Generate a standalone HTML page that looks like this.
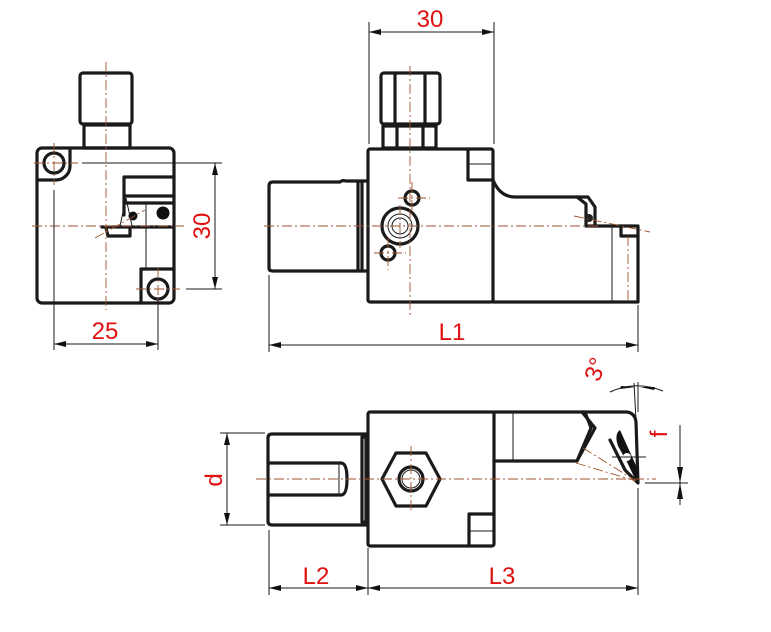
<!DOCTYPE html>
<html><head><meta charset="utf-8"><style>
html,body{margin:0;padding:0;background:#fff}
svg{display:block}
.k{stroke:#1a1a1a;stroke-width:3.2;fill:none;stroke-linejoin:round;stroke-linecap:round}
.t{stroke:#1a1a1a;stroke-width:1;fill:none}
.c{stroke:#a0522d;stroke-width:0.9;fill:none;stroke-dasharray:10 3 2 3}
.r{fill:#e01010;font-family:"Liberation Sans",sans-serif;font-size:24px}
</style></head><body>
<svg width="771" height="632" viewBox="0 0 771 632" xmlns="http://www.w3.org/2000/svg">
<defs>
<marker id="a" viewBox="0 0 12 6" refX="12" refY="3" markerWidth="12" markerHeight="6" orient="auto-start-reverse" markerUnits="userSpaceOnUse"><path d="M0,0 L12,3 L0,6 Z" fill="#111"/></marker>
</defs>

<!-- ===== LEFT VIEW ===== -->
<rect class="k" x="80" y="73" width="52" height="51" rx="3"/>
<rect class="k" x="84" y="125" width="46" height="23"/>
<rect class="k" x="37" y="148" width="137" height="155" rx="5"/>
<path class="k" d="M37,180 H56 A14,14 0 0 0 70,166 V148"/>
<circle class="k" cx="54" cy="163" r="10"/>
<path class="k" d="M141,303 V269 H174"/>
<circle class="k" cx="158" cy="289" r="10"/>
<path class="k" d="M124,215 V177 H174"/>
<line class="k" x1="125" y1="196" x2="174" y2="196"/>
<line class="k" x1="125" y1="203" x2="174" y2="203"/>
<line class="k" x1="102" y1="227" x2="174" y2="227"/>
<path class="k" d="M106,228 L108,236 H130 V228"/>
<circle cx="163" cy="213" r="6.5" fill="#111"/>
<circle cx="133" cy="216" r="4.5" fill="#111"/>
<path class="t" d="M120,226 L126,198 L132,226 M146,203 V268"/>
<line class="c" x1="106" y1="62" x2="106" y2="310"/>
<line class="c" x1="32" y1="226" x2="184" y2="226"/>
<line class="c" x1="34" y1="163" x2="78" y2="163"/>
<line class="c" x1="54" y1="143" x2="54" y2="185"/>
<line class="c" x1="136" y1="289" x2="180" y2="289"/>
<line class="c" x1="158" y1="267" x2="158" y2="312"/>
<line class="c" x1="95" y1="238" x2="145" y2="210"/>
<!-- dims left -->
<line class="t" x1="82" y1="163" x2="222" y2="163"/>
<line class="t" x1="186" y1="289" x2="222" y2="289"/>
<line class="t" x1="215" y1="163" x2="215" y2="289" marker-start="url(#a)" marker-end="url(#a)"/>
<text class="r" transform="translate(210,226) rotate(-90)" text-anchor="middle">30</text>
<line class="t" x1="54" y1="190" x2="54" y2="350"/>
<line class="t" x1="158" y1="300" x2="158" y2="350"/>
<line class="t" x1="54" y1="344" x2="158" y2="344" marker-start="url(#a)" marker-end="url(#a)"/>
<text class="r" x="105" y="339" text-anchor="middle">25</text>

<!-- ===== MIDDLE VIEW ===== -->
<rect class="k" x="381" y="73" width="59" height="51" rx="3"/>
<line class="k" x1="395" y1="74" x2="395" y2="123"/>
<line class="k" x1="425" y1="74" x2="425" y2="123"/>
<rect class="k" x="383" y="126" width="53" height="22"/>
<line class="k" x1="397" y1="127" x2="397" y2="147"/>
<line class="k" x1="423" y1="127" x2="423" y2="147"/>
<rect class="k" x="368" y="149" width="125" height="153" rx="2"/>
<path class="k" d="M468,149 V180 H493"/>
<line class="t" x1="469" y1="164" x2="493" y2="164"/>
<path class="k" d="M366,181 H346 Q342,180 340,182 H273 Q269,182 269,186 V268 Q269,271 273,271 H366"/>
<line class="k" x1="358" y1="181" x2="358" y2="271"/>
<line class="k" x1="362" y1="181" x2="362" y2="271"/>
<path class="k" d="M493,180 Q500,197 515,197 H577 L586,204 V226 H638 V302 H493"/>
<path class="k" d="M577,197 H588 L595,207 V226"/>
<path class="k" d="M621,226 V236 H637"/>
<circle cx="589" cy="218" r="4" fill="#222"/>
<line class="t" x1="612" y1="226" x2="612" y2="302"/>
<line class="c" x1="628" y1="236" x2="628" y2="302"/>
<circle class="k" cx="400" cy="226" r="18"/>
<circle class="t" cx="400" cy="226" r="12" stroke-width="2.5"/>
<circle class="t" cx="400" cy="226" r="8" stroke-width="2"/>
<circle class="k" cx="412" cy="198" r="7"/>
<circle class="k" cx="388" cy="253" r="7"/>
<line class="c" x1="410" y1="66" x2="410" y2="318"/>
<line class="c" x1="264" y1="226" x2="600" y2="226"/>
<line class="c" x1="574" y1="216" x2="650" y2="232"/>
<line class="c" x1="398" y1="198" x2="430" y2="198"/>
<line class="c" x1="412" y1="182" x2="412" y2="214"/>
<line class="c" x1="374" y1="253" x2="406" y2="253"/>
<line class="c" x1="388" y1="238" x2="388" y2="270"/>
<line class="c" x1="400" y1="205" x2="400" y2="248"/>
<!-- dims middle -->
<line class="t" x1="369" y1="22" x2="369" y2="144"/>
<line class="t" x1="494" y1="22" x2="494" y2="144"/>
<line class="t" x1="369" y1="32" x2="494" y2="32" marker-start="url(#a)" marker-end="url(#a)"/>
<text class="r" x="430" y="27" text-anchor="middle">30</text>
<line class="t" x1="269" y1="275" x2="269" y2="352"/>
<line class="t" x1="638" y1="305" x2="638" y2="352"/>
<line class="t" x1="269" y1="345" x2="638" y2="345" marker-start="url(#a)" marker-end="url(#a)"/>
<text class="r" x="452" y="340" text-anchor="middle">L1</text>

<!-- ===== BOTTOM VIEW ===== -->
<rect class="k" x="368" y="412" width="126" height="134" rx="2"/>
<path class="k" d="M469,546 V514 H494"/>
<line class="t" x1="469" y1="531" x2="494" y2="531"/>
<path class="k" d="M366,434 H272 Q268,434 268,438 V521 Q268,525 272,525 H366"/>
<path class="k" d="M362,437 H366 V522 H362 Z"/>
<path class="k" d="M269,463 H341 Q347,463 347,479 Q347,495 341,495 H269"/>
<line class="t" x1="339" y1="463" x2="339" y2="495"/>
<polygon class="k" points="382,479 396,453 426,453 440,479 426,506 396,506"/>
<circle class="k" cx="411" cy="479" r="12"/>
<circle class="t" cx="411" cy="479" r="9" stroke-width="2"/>
<path class="k" d="M494,412 H627 Q635,413 636,422 L638,483 L625,470 L610,440"/>
<path class="k" d="M494,461 H577 L595,428 L582,412"/>
<path class="k" d="M577,461 L591,428 L585,412"/>
<line class="t" x1="513" y1="412" x2="513" y2="461"/>
<path d="M620,430 Q614,434 618,446 L627,462 L637,483 L638,470 Z" fill="#111"/>
<circle cx="627" cy="457" r="4" fill="#fff"/>
<line class="c" x1="583" y1="448" x2="636" y2="481"/>
<line class="c" x1="576" y1="463" x2="636" y2="481"/>
<line class="c" x1="256" y1="479" x2="656" y2="479"/>
<line class="c" x1="411" y1="446" x2="411" y2="512"/>
<line class="t" x1="612" y1="457" x2="646" y2="457"/>
<!-- dims bottom -->
<line class="t" x1="220" y1="433" x2="265" y2="433"/>
<line class="t" x1="220" y1="525" x2="265" y2="525"/>
<line class="t" x1="227" y1="433" x2="227" y2="525" marker-start="url(#a)" marker-end="url(#a)"/>
<text class="r" transform="translate(222,480) rotate(-90)" text-anchor="middle">d</text>
<line class="t" x1="269" y1="530" x2="269" y2="595"/>
<line class="t" x1="368" y1="548" x2="368" y2="595"/>
<line class="t" x1="638" y1="488" x2="638" y2="595"/>
<line class="t" x1="269" y1="588" x2="368" y2="588" marker-start="url(#a)" marker-end="url(#a)"/>
<line class="t" x1="368" y1="588" x2="638" y2="588" marker-start="url(#a)" marker-end="url(#a)"/>
<text class="r" x="316" y="584" text-anchor="middle">L2</text>
<text class="r" x="502" y="584" text-anchor="middle">L3</text>
<line class="t" x1="638" y1="382" x2="638" y2="412"/>
<line class="t" x1="634" y1="383" x2="636" y2="420"/>
<path class="t" d="M610,392 Q636,380 663,391"/>
<path d="M636,387 L620,389 L621,386 Z" fill="#111"/>
<path d="M640,387 L655,387 L654,390 Z" fill="#111"/>
<text class="r" transform="translate(603,372) rotate(-70)" text-anchor="middle">3°</text>
<line class="t" x1="680" y1="425" x2="680" y2="505"/>
<line class="t" x1="645" y1="483" x2="688" y2="483"/>
<path d="M680,483 L677,467 L683,467 Z" fill="#111"/>
<path d="M680,483 L677,499 L683,499 Z" fill="#111"/>
<text class="r" transform="translate(667,434) rotate(-90)" text-anchor="middle">f</text>
</svg>
</body></html>
